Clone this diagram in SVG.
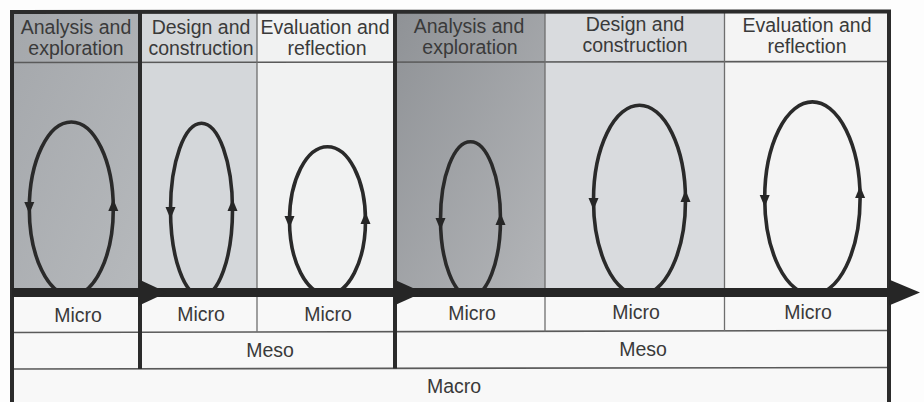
<svg xmlns="http://www.w3.org/2000/svg" width="924" height="402" viewBox="0 0 924 402">
  <style>
    .lbl { font-family: "Liberation Sans", Arial, sans-serif; font-size: 19.5px; fill: #3a3a3a; text-anchor: middle; }
    .loop { fill: none; stroke: #2a2a2a; stroke-width: 3.6; }
    .thick { stroke: #2b2b2b; stroke-width: 4; fill: none; }
    .thin { stroke: #6e6e6e; stroke-width: 1.3; fill: none; }
    .hline { stroke: #5a5a5a; stroke-width: 1.6; fill: none; }
    .ah { fill: #262626; }
  </style>
  <defs>
    <linearGradient id="g1" x1="0" y1="0" x2="1" y2="1">
      <stop offset="0" stop-color="#a4a7ab"/>
      <stop offset="1" stop-color="#b6b9bc"/>
    </linearGradient>
    <linearGradient id="g2" x1="0" y1="0" x2="1" y2="1">
      <stop offset="0" stop-color="#8f9296"/>
      <stop offset="1" stop-color="#b3b5b8"/>
    </linearGradient>
    <clipPath id="above">
      <rect x="0" y="0" width="924" height="290"/>
    </clipPath>
    <path id="adown" d="M-5,-6 L5,-6 L0,6 Z"/>
    <path id="aup" d="M-5,6 L5,6 L0,-6 Z"/>
  </defs>

  <rect x="0" y="0" width="924" height="402" fill="#fdfdfd"/>

  <!-- Section 1 -->
  <g id="s1-analysis">
    <rect x="12" y="12" width="128" height="280" fill="url(#g1)"/>
    <text class="lbl" x="76" y="34">Analysis and</text>
    <text class="lbl" x="76" y="54.5">exploration</text>
  </g>
  <g id="s1-design">
    <rect x="140" y="12" width="117" height="280" fill="#d4d7da"/>
    <text class="lbl" x="201" y="34">Design and</text>
    <text class="lbl" x="201" y="54.5">construction</text>
  </g>
  <g id="s1-evaluation">
    <rect x="257" y="12" width="138" height="280" fill="#f1f2f2"/>
    <text class="lbl" x="325" y="34">Evaluation and</text>
    <text class="lbl" x="327" y="54.5">reflection</text>
  </g>

  <!-- Section 2 -->
  <g id="s2-analysis">
    <rect x="395" y="12" width="150" height="280" fill="url(#g2)"/>
    <text class="lbl" x="469" y="33">Analysis and</text>
    <text class="lbl" x="470" y="54">exploration</text>
  </g>
  <g id="s2-design">
    <rect x="545" y="12" width="179" height="280" fill="#d9dbde"/>
    <text class="lbl" x="635" y="31">Design and</text>
    <text class="lbl" x="635" y="52">construction</text>
  </g>
  <g id="s2-evaluation">
    <rect x="724" y="12" width="165" height="280" fill="#f4f4f4"/>
    <text class="lbl" x="807" y="31.5">Evaluation and</text>
    <text class="lbl" x="807" y="52.5">reflection</text>
  </g>

  <!-- Lower rows -->
  <g id="rows">
    <rect x="12" y="292" width="877" height="112" fill="#f8f8f8"/>
  </g>

  <!-- Grid lines -->
  <g id="grid">
    <line class="hline" x1="12" y1="62.5" x2="889" y2="61.5"/>
    <line class="hline" x1="12" y1="332.5" x2="889" y2="330.5"/>
    <line class="hline" x1="12" y1="369" x2="889" y2="367.5"/>
    <line class="thin" x1="257" y1="12" x2="257" y2="332"/>
    <line class="thin" x1="545" y1="12" x2="545" y2="331.5"/>
    <line class="thin" x1="724.5" y1="12" x2="724.5" y2="331"/>
    <line class="thick" x1="140" y1="12" x2="140" y2="369"/>
    <line class="thick" x1="395" y1="12" x2="395" y2="368.5"/>
    <path class="thick" d="M12,404 L12,12 L889,11.5 L889,404"/>
  </g>

  <!-- Micro loops -->
  <g id="loops">
    <g id="loop-1">
      <ellipse class="loop" cx="71.3" cy="208.7" rx="42" ry="86.7" clip-path="url(#above)"/>
      <use href="#adown" x="29.3" y="208" class="ah"/>
      <use href="#aup" x="113.3" y="205" class="ah"/>
    </g>
    <g id="loop-2">
      <ellipse class="loop" cx="201.5" cy="209.8" rx="31" ry="86.5" clip-path="url(#above)"/>
      <use href="#adown" x="170.5" y="213" class="ah"/>
      <use href="#aup" x="232.5" y="205" class="ah"/>
    </g>
    <g id="loop-3">
      <ellipse class="loop" cx="327.5" cy="220.6" rx="38" ry="73.9" clip-path="url(#above)"/>
      <use href="#adown" x="289.5" y="222" class="ah"/>
      <use href="#aup" x="365.5" y="218" class="ah"/>
    </g>
    <g id="loop-4">
      <ellipse class="loop" cx="470.5" cy="219.2" rx="30" ry="77.4" clip-path="url(#above)"/>
      <use href="#adown" x="440.5" y="224" class="ah"/>
      <use href="#aup" x="500.5" y="219" class="ah"/>
    </g>
    <g id="loop-5">
      <ellipse class="loop" cx="639.5" cy="200.3" rx="46" ry="95" clip-path="url(#above)"/>
      <use href="#adown" x="593.5" y="204" class="ah"/>
      <use href="#aup" x="685.5" y="196" class="ah"/>
    </g>
    <g id="loop-6">
      <ellipse class="loop" cx="812.4" cy="198.3" rx="47.7" ry="96.4" clip-path="url(#above)"/>
      <use href="#adown" x="764.7" y="201" class="ah"/>
      <use href="#aup" x="860.1" y="192" class="ah"/>
    </g>
  </g>

  <!-- Timeline connector -->
  <g id="connectors">
    <line x1="12" y1="292.5" x2="892" y2="292.5" stroke="#262626" stroke-width="9"/>
    <polygon class="ah" points="139,279.5 167,292.5 139,305.5"/>
    <polygon class="ah" points="394,279.5 423,292.5 394,305.5"/>
    <polygon class="ah" points="889,279.5 920,292.5 889,305.5"/>
  </g>

  <!-- Level labels -->
  <g id="micro-1"><text class="lbl" x="78" y="321.5">Micro</text></g>
  <g id="micro-2"><text class="lbl" x="201" y="321">Micro</text></g>
  <g id="micro-3"><text class="lbl" x="328" y="320.5">Micro</text></g>
  <g id="micro-4"><text class="lbl" x="472" y="319.5">Micro</text></g>
  <g id="micro-5"><text class="lbl" x="636" y="319">Micro</text></g>
  <g id="micro-6"><text class="lbl" x="808" y="318.5">Micro</text></g>
  <g id="meso-1"><text class="lbl" x="270" y="357">Meso</text></g>
  <g id="meso-2"><text class="lbl" x="643" y="356">Meso</text></g>
  <g id="macro"><text class="lbl" x="454" y="393">Macro</text></g>
</svg>
